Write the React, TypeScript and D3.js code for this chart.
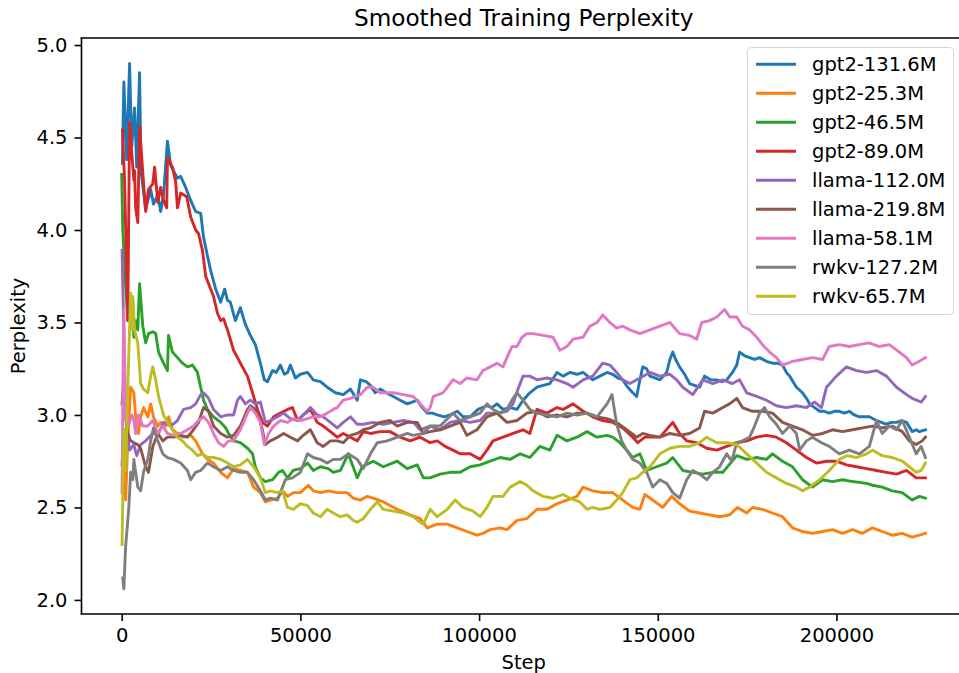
import { useEffect, useRef } from 'react';
import * as d3 from 'd3';

// [step in thousands, perplexity]
type Pt = [number, number];

const GPT2_131: Pt[] = [
  [0.2, 4.36], [0.6, 4.8], [1.4, 4.38], [2.2, 4.9], [2.8, 4.45], [3.6, 4.66], [4.2, 4.34], [5.0, 4.85],
  [5.4, 4.32], [6.7, 4.11], [8.1, 4.22], [8.9, 4.14], [10.1, 4.19], [10.9, 4.1], [11.7, 4.19], [12.8, 4.48],
  [13.7, 4.35], [14.5, 4.32], [15.6, 4.28], [16.5, 4.29], [17.9, 4.23], [19.3, 4.16], [20.7, 4.1], [22.1, 4.09],
  [22.9, 3.96], [24.0, 3.86], [24.9, 3.78], [26.3, 3.68], [27.7, 3.61], [28.8, 3.68], [29.6, 3.62], [30.4, 3.61],
  [31.8, 3.51], [33.2, 3.58], [34.6, 3.49], [36.0, 3.43], [37.4, 3.38], [38.8, 3.28], [39.9, 3.19], [40.8, 3.18],
  [42.2, 3.24], [43.3, 3.23], [44.4, 3.27], [45.5, 3.22], [46.4, 3.23], [47.2, 3.27], [48.6, 3.2], [50.0, 3.22],
  [52.0, 3.23], [53.6, 3.19], [55.6, 3.18], [57.5, 3.15], [59.8, 3.12], [62.0, 3.11], [64.0, 3.14], [65.9, 3.08],
  [66.8, 3.19], [68.4, 3.18], [69.6, 3.16], [70.9, 3.12], [72.3, 3.14], [74.0, 3.12], [76.0, 3.1], [77.9, 3.08],
  [79.9, 3.06], [81.3, 3.07], [82.7, 3.08], [84.1, 3.04], [85.5, 3.01], [86.9, 3.01], [88.3, 3.0], [90.2, 2.99],
  [91.9, 3.0], [93.9, 3.02], [95.5, 2.99], [97.5, 2.99], [99.7, 3.03], [102.2, 3.05], [103.6, 3.04], [105.0, 3.06],
  [106.7, 3.03], [108.7, 3.04], [110.6, 3.03], [112.3, 3.08], [114.2, 3.12], [116.2, 3.15], [117.9, 3.16], [119.8, 3.17],
  [121.8, 3.23], [123.5, 3.21], [125.4, 3.23], [127.4, 3.22], [129.1, 3.23], [130.4, 3.21], [131.8, 3.19], [133.8, 3.21],
  [135.8, 3.23], [137.4, 3.22], [138.8, 3.2], [140.2, 3.19], [141.6, 3.15], [143.0, 3.12], [144.1, 3.1], [145.0, 3.19],
  [145.8, 3.26], [146.9, 3.25], [147.8, 3.21], [149.2, 3.2], [150.6, 3.19], [152.5, 3.23], [153.4, 3.3], [154.2, 3.34],
  [155.0, 3.3], [156.1, 3.26], [157.5, 3.22], [158.9, 3.17], [160.3, 3.16], [161.7, 3.15], [163.1, 3.21], [164.8, 3.19],
  [166.5, 3.19], [167.9, 3.18], [169.3, 3.19], [170.9, 3.23], [172.1, 3.27], [172.9, 3.34], [174.3, 3.32], [175.7, 3.31],
  [177.1, 3.3], [178.5, 3.31], [180.4, 3.29], [182.1, 3.28], [183.5, 3.28], [184.9, 3.27], [186.0, 3.23], [186.9, 3.21],
  [188.8, 3.15], [190.5, 3.12], [191.6, 3.09], [192.5, 3.06], [193.9, 3.04], [195.3, 3.02], [196.6, 3.02], [198.0, 3.01],
  [199.4, 3.02], [200.8, 3.02], [202.2, 3.01], [203.6, 3.02], [205.0, 3.0], [206.4, 2.99], [207.8, 2.99], [209.2, 2.99],
  [211.2, 2.97], [212.6, 2.96], [213.9, 2.95], [215.4, 2.96], [216.8, 2.96], [218.2, 2.97], [219.6, 2.96], [221.2, 2.91],
  [222.3, 2.92], [223.2, 2.91], [224.9, 2.92],
];

const GPT2_25: Pt[] = [
  [0.1, 2.73], [0.6, 2.92], [1.1, 2.54], [1.7, 2.86], [2.5, 3.15], [3.4, 3.12], [3.9, 2.99], [4.7, 2.9],
  [5.3, 2.99], [6.1, 3.04], [7.3, 2.99], [8.1, 3.06], [8.9, 2.99], [10.1, 2.94], [10.9, 2.96], [12.3, 2.94],
  [13.1, 2.99], [14.2, 2.92], [15.6, 2.9], [17.3, 2.88], [19.3, 2.89], [20.7, 2.86], [21.5, 2.83], [22.6, 2.79],
  [24.0, 2.76], [25.7, 2.74], [27.7, 2.69], [29.6, 2.66], [31.3, 2.71], [33.2, 2.7], [35.2, 2.69], [36.9, 2.61],
  [38.8, 2.58], [40.2, 2.53], [41.6, 2.54], [43.6, 2.55], [45.0, 2.59], [46.4, 2.56], [48.0, 2.58], [50.0, 2.58],
  [52.2, 2.62], [53.6, 2.59], [55.6, 2.58], [57.8, 2.59], [60.3, 2.58], [63.1, 2.58], [64.8, 2.55], [66.8, 2.54],
  [68.7, 2.56], [70.4, 2.55], [73.2, 2.53], [77.1, 2.49], [80.7, 2.46], [83.5, 2.44], [85.5, 2.39], [88.3, 2.41],
  [91.1, 2.41], [93.9, 2.39], [96.6, 2.37], [99.4, 2.35], [101.1, 2.36], [103.1, 2.38], [105.9, 2.39], [107.8, 2.38],
  [110.6, 2.43], [113.4, 2.44], [116.2, 2.49], [119.0, 2.49], [121.8, 2.52], [124.6, 2.54], [127.4, 2.56], [129.1, 2.61],
  [131.8, 2.59], [134.6, 2.58], [137.4, 2.58], [140.2, 2.54], [143.0, 2.5], [145.0, 2.49], [146.4, 2.57], [148.6, 2.54],
  [151.4, 2.5], [153.9, 2.56], [156.1, 2.52], [158.9, 2.48], [161.7, 2.47], [164.5, 2.46], [167.3, 2.45], [170.1, 2.46],
  [172.3, 2.5], [174.9, 2.47], [176.5, 2.5], [179.3, 2.49], [182.1, 2.47], [184.9, 2.45], [187.7, 2.39], [190.5, 2.37],
  [193.3, 2.36], [196.1, 2.37], [198.9, 2.38], [201.7, 2.36], [204.5, 2.38], [207.3, 2.36], [210.1, 2.39], [212.8, 2.37],
  [215.6, 2.35], [218.4, 2.36], [221.2, 2.34], [223.2, 2.35], [224.9, 2.36],
];

const GPT2_46: Pt[] = [
  [0.0, 4.3], [0.3, 4.0], [0.6, 3.89], [1.1, 3.7], [1.7, 3.51], [2.5, 3.57], [3.1, 3.62], [3.4, 3.42],
  [3.9, 3.51], [4.5, 3.46], [5.0, 3.71], [5.9, 3.48], [6.7, 3.39], [7.5, 3.44], [8.7, 3.45], [9.5, 3.44],
  [10.3, 3.34], [11.7, 3.28], [12.8, 3.24], [13.1, 3.43], [14.2, 3.34], [15.6, 3.31], [17.0, 3.28], [18.4, 3.26],
  [19.8, 3.27], [21.2, 3.23], [22.1, 3.15], [22.9, 3.08], [24.0, 3.03], [25.7, 2.99], [27.7, 2.96], [29.1, 2.93],
  [29.9, 2.9], [31.3, 2.86], [33.2, 2.85], [35.2, 2.82], [36.6, 2.79], [37.4, 2.72], [38.8, 2.66], [40.2, 2.64],
  [42.2, 2.65], [43.9, 2.69], [45.0, 2.7], [46.4, 2.66], [48.0, 2.7], [50.0, 2.71], [52.0, 2.74], [53.6, 2.7],
  [55.6, 2.72], [57.8, 2.71], [59.2, 2.69], [61.2, 2.7], [63.4, 2.79], [65.9, 2.66], [67.3, 2.72], [70.4, 2.75],
  [73.2, 2.72], [77.1, 2.75], [79.9, 2.71], [82.7, 2.73], [84.4, 2.66], [86.3, 2.66], [89.1, 2.68], [91.9, 2.69],
  [94.7, 2.69], [97.5, 2.72], [100.3, 2.73], [103.1, 2.75], [105.9, 2.77], [108.7, 2.76], [111.5, 2.79], [114.2, 2.77],
  [117.0, 2.83], [119.8, 2.81], [121.8, 2.89], [124.6, 2.86], [127.4, 2.88], [130.2, 2.91], [133.0, 2.88], [135.8, 2.89],
  [137.4, 2.88], [139.4, 2.85], [141.3, 2.81], [143.0, 2.77], [145.0, 2.79], [146.9, 2.7], [149.7, 2.72], [152.5, 2.74],
  [154.2, 2.77], [157.0, 2.7], [159.8, 2.69], [162.6, 2.68], [165.4, 2.69], [168.2, 2.69], [172.1, 2.78], [174.9, 2.76],
  [177.7, 2.77], [180.4, 2.76], [182.1, 2.79], [184.9, 2.75], [187.7, 2.72], [190.5, 2.65], [193.3, 2.61], [196.1, 2.65],
  [198.9, 2.64], [201.7, 2.65], [204.5, 2.64], [208.4, 2.63], [210.1, 2.62], [212.8, 2.61], [215.6, 2.59], [218.4, 2.58],
  [221.2, 2.54], [223.2, 2.56], [224.9, 2.55],
];

const GPT2_89: Pt[] = [
  [0.2, 4.54], [0.8, 4.27], [1.7, 3.51], [2.2, 4.58], [2.8, 4.42], [3.4, 4.27], [3.6, 4.32], [3.9, 4.12],
  [4.5, 4.04], [5.0, 4.56], [5.9, 4.31], [6.7, 4.1], [7.5, 4.22], [8.7, 4.25], [9.2, 4.34], [10.1, 4.15],
  [10.9, 4.23], [11.7, 4.16], [12.6, 4.12], [12.8, 4.39], [14.2, 4.34], [15.1, 4.26], [15.6, 4.12], [16.5, 4.2],
  [18.2, 4.18], [19.3, 4.07], [20.7, 4.0], [21.5, 3.98], [22.6, 3.89], [23.5, 3.75], [24.3, 3.71], [25.7, 3.64],
  [26.8, 3.55], [27.7, 3.51], [28.5, 3.52], [29.6, 3.46], [31.3, 3.35], [33.2, 3.28], [35.2, 3.21], [36.6, 3.12],
  [38.0, 3.03], [39.4, 2.96], [40.8, 2.94], [42.5, 2.99], [44.4, 3.01], [46.4, 3.03], [47.8, 3.04], [49.2, 2.97],
  [50.8, 3.0], [52.8, 3.03], [54.7, 2.96], [56.4, 2.94], [58.4, 2.91], [60.3, 2.88], [62.0, 2.9], [64.0, 2.88],
  [65.9, 2.86], [67.6, 2.91], [69.6, 2.9], [72.3, 2.91], [75.1, 2.91], [77.9, 2.88], [80.7, 2.86], [83.5, 2.88],
  [86.3, 2.85], [88.3, 2.86], [90.5, 2.83], [92.7, 2.81], [94.7, 2.79], [97.5, 2.79], [100.3, 2.76], [102.2, 2.81],
  [103.9, 2.86], [106.7, 2.88], [109.5, 2.9], [112.3, 2.92], [114.2, 2.9], [116.2, 3.03], [119.0, 3.01], [121.8, 3.04],
  [123.5, 3.03], [126.3, 3.06], [129.1, 3.02], [131.8, 2.99], [134.6, 2.97], [137.4, 2.96], [140.2, 2.93], [143.0, 2.88],
  [144.4, 2.85], [146.4, 2.88], [147.8, 2.88], [150.6, 2.88], [154.2, 2.96], [156.1, 2.9], [158.1, 2.86], [160.9, 2.85],
  [163.7, 2.82], [166.5, 2.81], [169.3, 2.83], [172.1, 2.85], [174.9, 2.86], [177.7, 2.88], [180.4, 2.89], [183.2, 2.88],
  [186.0, 2.85], [188.8, 2.81], [191.6, 2.77], [194.4, 2.74], [197.2, 2.75], [200.0, 2.75], [202.8, 2.73], [205.6, 2.72],
  [208.4, 2.71], [211.2, 2.7], [214.0, 2.69], [216.8, 2.68], [219.6, 2.7], [222.3, 2.66], [224.9, 2.66],
];

const LLAMA_112: Pt[] = [
  [0.1, 3.89], [0.4, 3.62], [0.8, 3.19], [1.4, 2.92], [2.2, 2.81], [3.4, 2.84], [4.2, 2.78], [5.3, 2.84],
  [6.7, 2.86], [8.7, 2.9], [10.3, 2.9], [11.7, 2.96], [13.7, 2.94], [15.6, 2.97], [17.3, 3.03], [19.3, 3.04],
  [20.7, 3.06], [22.1, 3.11], [22.9, 3.12], [24.3, 3.09], [25.7, 3.03], [27.7, 2.99], [29.6, 3.0], [31.3, 3.0],
  [32.4, 3.08], [33.2, 3.1], [34.6, 3.06], [36.0, 3.08], [37.4, 3.06], [38.8, 3.07], [40.2, 2.96], [41.6, 2.97],
  [43.6, 2.99], [45.3, 3.01], [47.2, 2.98], [49.2, 2.97], [50.8, 3.0], [52.8, 3.04], [54.7, 3.0], [56.4, 2.99],
  [58.4, 2.96], [60.3, 2.93], [62.0, 2.96], [64.0, 2.99], [65.9, 2.95], [67.6, 2.95], [70.4, 2.96], [73.2, 2.95],
  [76.0, 2.96], [78.8, 2.97], [81.6, 2.96], [83.5, 2.92], [86.3, 2.94], [89.1, 2.92], [91.9, 2.96], [94.7, 2.97],
  [97.5, 2.96], [100.3, 2.97], [102.2, 3.01], [105.0, 3.01], [107.8, 3.02], [109.5, 3.06], [110.9, 3.14], [112.3, 3.21],
  [114.2, 3.21], [116.2, 3.19], [119.0, 3.2], [121.8, 3.19], [124.6, 3.17], [126.3, 3.15], [129.1, 3.19], [131.8, 3.21],
  [134.6, 3.28], [136.6, 3.27], [138.5, 3.23], [140.2, 3.19], [142.2, 3.17], [145.0, 3.2], [147.8, 3.23], [150.6, 3.21],
  [153.4, 3.22], [155.3, 3.19], [157.0, 3.15], [159.8, 3.11], [162.6, 3.19], [165.4, 3.17], [168.2, 3.19], [170.9, 3.17],
  [172.9, 3.19], [174.9, 3.12], [177.7, 3.1], [180.4, 3.08], [183.2, 3.05], [186.0, 3.04], [188.8, 3.05], [191.6, 3.04],
  [193.9, 3.07], [195.8, 3.04], [197.2, 3.15], [200.0, 3.21], [202.8, 3.26], [205.6, 3.24], [208.4, 3.23], [211.2, 3.24],
  [214.0, 3.21], [216.8, 3.15], [219.6, 3.11], [221.2, 3.09], [223.7, 3.07], [224.9, 3.1],
];

const LLAMA_219: Pt[] = [
  [0.1, 3.06], [0.6, 3.19], [1.4, 2.92], [2.5, 2.86], [3.4, 2.85], [4.5, 2.84], [5.3, 2.82], [6.7, 2.72],
  [7.5, 2.69], [8.7, 2.83], [10.1, 2.9], [11.5, 2.86], [12.8, 2.88], [14.5, 2.88], [16.5, 2.89], [18.4, 2.88],
  [20.1, 2.92], [21.5, 2.96], [22.9, 3.04], [24.3, 3.02], [25.7, 2.94], [27.7, 2.9], [29.6, 2.88], [31.3, 2.89],
  [33.2, 2.94], [35.2, 3.03], [36.0, 3.05], [37.4, 3.03], [38.8, 2.97], [40.2, 2.84], [41.6, 2.86], [43.6, 2.88],
  [45.3, 2.9], [47.2, 2.88], [49.2, 2.86], [50.8, 2.89], [52.8, 2.92], [54.7, 2.85], [56.4, 2.83], [58.4, 2.86],
  [60.3, 2.86], [62.0, 2.85], [64.0, 2.89], [65.9, 2.9], [67.6, 2.92], [69.6, 2.93], [72.3, 2.96], [75.1, 2.97],
  [77.1, 2.94], [79.9, 2.96], [82.7, 2.96], [84.4, 2.9], [86.3, 2.91], [89.1, 2.92], [91.9, 2.94], [94.7, 2.96],
  [96.6, 2.89], [99.4, 2.92], [102.2, 2.99], [105.0, 3.01], [107.8, 2.96], [110.6, 2.97], [113.4, 3.01], [116.2, 3.02],
  [119.0, 2.99], [121.8, 3.0], [124.6, 2.99], [127.4, 3.01], [130.2, 3.01], [133.0, 2.99], [135.8, 2.98], [138.5, 2.96],
  [141.3, 2.92], [144.1, 2.88], [145.8, 2.9], [147.8, 2.89], [150.6, 2.88], [153.4, 2.9], [156.1, 2.89], [158.9, 2.9],
  [161.7, 2.93], [163.1, 3.02], [165.4, 3.01], [168.2, 3.04], [170.1, 3.06], [172.1, 3.09], [173.7, 3.04], [176.5, 3.02],
  [179.3, 3.02], [182.1, 3.01], [184.9, 2.96], [187.7, 2.94], [190.5, 2.92], [193.3, 2.89], [196.1, 2.9], [198.9, 2.92],
  [201.7, 2.91], [204.5, 2.92], [207.3, 2.93], [210.1, 2.94], [212.8, 2.93], [215.6, 2.94], [218.4, 2.91], [220.4, 2.86],
  [222.3, 2.84], [224.0, 2.86], [224.9, 2.88],
];

const LLAMA_58: Pt[] = [
  [0.1, 2.58], [0.4, 3.3], [0.6, 3.57], [1.1, 2.97], [2.0, 2.95], [2.8, 3.0], [3.4, 2.97], [3.9, 2.9],
  [4.7, 3.0], [5.9, 2.94], [7.3, 2.94], [8.7, 2.97], [10.1, 2.9], [11.5, 2.94], [12.8, 2.9], [14.5, 2.89],
  [16.5, 2.9], [18.4, 2.92], [20.1, 2.94], [21.5, 2.97], [22.9, 2.99], [24.3, 2.96], [25.7, 2.9], [27.1, 2.85],
  [28.5, 2.83], [29.9, 2.86], [31.3, 2.86], [33.2, 2.92], [35.2, 3.01], [36.0, 3.04], [37.4, 3.01], [38.8, 2.96],
  [39.9, 2.84], [41.1, 2.9], [42.5, 2.94], [44.4, 2.97], [46.4, 2.96], [48.0, 2.98], [50.0, 2.97], [52.0, 2.98],
  [53.6, 2.99], [55.6, 2.99], [57.5, 3.01], [59.2, 3.03], [60.3, 3.04], [62.0, 3.08], [64.0, 3.09], [66.8, 3.11],
  [68.7, 3.15], [70.4, 3.15], [72.3, 3.12], [74.3, 3.12], [76.0, 3.12], [78.8, 3.11], [81.6, 3.1], [83.5, 3.06],
  [85.5, 3.02], [86.3, 3.04], [87.2, 3.1], [89.9, 3.12], [92.7, 3.19], [94.7, 3.17], [96.6, 3.2], [99.4, 3.19],
  [101.1, 3.24], [103.1, 3.26], [105.0, 3.28], [106.7, 3.26], [107.8, 3.31], [109.2, 3.37], [110.6, 3.37], [112.0, 3.42],
  [113.4, 3.44], [115.1, 3.44], [117.9, 3.43], [120.7, 3.42], [122.6, 3.35], [124.6, 3.37], [126.3, 3.41], [129.1, 3.42],
  [131.0, 3.48], [133.0, 3.5], [134.6, 3.54], [136.6, 3.5], [138.5, 3.47], [140.2, 3.48], [142.2, 3.46], [145.0, 3.44],
  [147.8, 3.46], [150.6, 3.48], [153.4, 3.5], [156.1, 3.44], [158.9, 3.43], [160.9, 3.41], [162.3, 3.5], [164.5, 3.51],
  [166.5, 3.53], [168.7, 3.57], [170.1, 3.53], [172.1, 3.53], [173.7, 3.48], [175.7, 3.46], [177.7, 3.42], [179.3, 3.38],
  [181.3, 3.34], [183.2, 3.31], [184.9, 3.27], [187.7, 3.29], [190.5, 3.3], [193.3, 3.31], [196.1, 3.3], [198.0, 3.37],
  [200.8, 3.38], [203.6, 3.37], [206.4, 3.38], [209.2, 3.39], [212.0, 3.37], [214.8, 3.38], [217.6, 3.34], [219.6, 3.31],
  [221.2, 3.27], [223.2, 3.29], [224.9, 3.31],
];

const RWKV_127: Pt[] = [
  [0.3, 2.12], [0.6, 2.06], [1.1, 2.29], [2.0, 2.5], [2.5, 2.69], [3.1, 2.65], [3.4, 2.76], [4.5, 2.61],
  [5.3, 2.59], [6.1, 2.69], [7.3, 2.76], [8.1, 2.86], [8.9, 2.93], [10.1, 2.86], [11.5, 2.79], [12.8, 2.77],
  [14.5, 2.76], [16.5, 2.74], [18.4, 2.7], [19.3, 2.65], [20.7, 2.69], [22.1, 2.7], [24.0, 2.74], [25.7, 2.72],
  [27.7, 2.7], [29.6, 2.72], [31.3, 2.7], [33.2, 2.69], [35.2, 2.69], [36.9, 2.65], [38.8, 2.59], [40.2, 2.54],
  [41.6, 2.55], [43.6, 2.54], [45.0, 2.61], [45.8, 2.65], [47.8, 2.66], [50.0, 2.69], [52.0, 2.79], [53.6, 2.77],
  [55.6, 2.76], [57.5, 2.74], [59.2, 2.76], [61.2, 2.76], [63.4, 2.79], [65.9, 2.76], [67.6, 2.71], [69.6, 2.79],
  [71.5, 2.85], [74.3, 2.86], [77.1, 2.88], [79.9, 2.9], [81.6, 2.89], [84.4, 2.9], [86.3, 2.94], [89.1, 2.94],
  [92.7, 3.01], [94.7, 2.97], [97.5, 2.99], [100.3, 3.01], [102.2, 3.06], [103.9, 3.03], [105.9, 3.01], [107.8, 3.03],
  [109.2, 3.08], [110.6, 3.12], [112.3, 3.08], [114.2, 3.03], [116.2, 3.01], [119.0, 3.0], [121.8, 2.99], [124.6, 3.01],
  [127.4, 3.0], [130.2, 3.01], [133.0, 2.99], [135.8, 3.06], [137.2, 3.11], [138.5, 2.95], [139.9, 2.86], [141.3, 2.81],
  [143.0, 2.76], [145.0, 2.74], [146.9, 2.69], [148.6, 2.61], [150.6, 2.65], [152.5, 2.63], [154.2, 2.58], [156.1, 2.55],
  [158.1, 2.65], [159.8, 2.7], [161.7, 2.68], [163.7, 2.65], [165.4, 2.69], [167.3, 2.72], [169.3, 2.79], [170.7, 2.75],
  [172.1, 2.85], [173.7, 2.86], [175.7, 2.88], [177.1, 2.94], [178.5, 3.01], [179.9, 3.04], [181.3, 2.99], [183.2, 2.95],
  [184.9, 2.9], [186.9, 2.94], [188.8, 2.9], [189.7, 2.81], [191.6, 2.86], [193.3, 2.88], [195.8, 2.85], [198.0, 2.83],
  [200.8, 2.79], [203.6, 2.81], [206.4, 2.79], [209.2, 2.83], [211.2, 2.97], [212.8, 2.9], [214.8, 2.94], [216.8, 2.92],
  [218.4, 2.97], [220.4, 2.88], [222.3, 2.79], [223.7, 2.83], [224.9, 2.77],
];

const RWKV_65: Pt[] = [
  [0.1, 2.3], [0.6, 2.92], [1.1, 2.7], [1.7, 3.14], [2.5, 3.66], [2.8, 3.46], [3.1, 3.64], [3.6, 3.46],
  [4.5, 3.39], [5.3, 3.17], [6.1, 3.14], [7.3, 3.12], [8.1, 3.21], [8.7, 3.26], [9.5, 3.19], [10.3, 3.1],
  [11.7, 3.0], [12.8, 2.96], [14.2, 2.92], [15.6, 2.88], [17.0, 2.86], [18.4, 2.83], [19.8, 2.81], [21.2, 2.78],
  [22.6, 2.79], [24.0, 2.77], [25.7, 2.77], [27.7, 2.76], [29.6, 2.74], [31.3, 2.72], [33.2, 2.73], [35.2, 2.76],
  [36.9, 2.72], [38.8, 2.66], [40.2, 2.58], [41.6, 2.59], [43.6, 2.58], [45.0, 2.59], [46.4, 2.5], [48.0, 2.49],
  [50.0, 2.52], [52.0, 2.51], [53.6, 2.47], [55.6, 2.45], [57.5, 2.49], [59.2, 2.47], [61.2, 2.45], [63.1, 2.46],
  [64.8, 2.43], [65.9, 2.42], [67.6, 2.44], [69.6, 2.49], [71.5, 2.53], [73.2, 2.49], [76.0, 2.48], [78.8, 2.47],
  [81.6, 2.45], [83.5, 2.42], [84.4, 2.41], [86.3, 2.49], [88.3, 2.45], [91.1, 2.49], [93.3, 2.54], [95.5, 2.5],
  [98.3, 2.48], [100.3, 2.45], [102.2, 2.5], [103.9, 2.56], [106.7, 2.56], [108.7, 2.61], [111.5, 2.64], [113.4, 2.62],
  [115.1, 2.59], [117.9, 2.56], [120.7, 2.55], [123.5, 2.57], [125.4, 2.55], [128.2, 2.53], [130.2, 2.49], [131.8, 2.5],
  [133.8, 2.49], [136.6, 2.5], [138.5, 2.54], [140.2, 2.58], [142.2, 2.65], [144.1, 2.66], [145.8, 2.69], [147.8, 2.72],
  [150.6, 2.79], [153.4, 2.82], [156.1, 2.83], [158.9, 2.83], [161.7, 2.85], [163.7, 2.88], [166.5, 2.85], [169.3, 2.85],
  [172.1, 2.84], [174.9, 2.79], [177.7, 2.74], [180.4, 2.69], [183.2, 2.66], [186.0, 2.63], [188.8, 2.61], [190.5, 2.59],
  [192.5, 2.61], [195.3, 2.65], [198.0, 2.7], [200.8, 2.76], [202.8, 2.78], [205.6, 2.77], [208.4, 2.79], [210.1, 2.81],
  [212.8, 2.78], [215.6, 2.77], [218.4, 2.75], [220.4, 2.72], [222.3, 2.69], [223.7, 2.7], [224.9, 2.74],
];

const SERIES = [
  { name: 'gpt2-131.6M', color: '#1f77b4', data: GPT2_131 },
  { name: 'gpt2-25.3M', color: '#ff7f0e', data: GPT2_25 },
  { name: 'gpt2-46.5M', color: '#2ca02c', data: GPT2_46 },
  { name: 'gpt2-89.0M', color: '#d62728', data: GPT2_89 },
  { name: 'llama-112.0M', color: '#9467bd', data: LLAMA_112 },
  { name: 'llama-219.8M', color: '#8c564b', data: LLAMA_219 },
  { name: 'llama-58.1M', color: '#e377c2', data: LLAMA_58 },
  { name: 'rwkv-127.2M', color: '#7f7f7f', data: RWKV_127 },
  { name: 'rwkv-65.7M', color: '#bcbd22', data: RWKV_65 },
];

const X_TICKS = [0, 50000, 100000, 150000, 200000];
const Y_TICKS = [2.0, 2.5, 3.0, 3.5, 4.0, 4.5, 5.0];

const W = 959;
const H = 673;
const LEFT = 81.5;
const RIGHT = 966;
const TOP = 38;
const BOTTOM = 614;
const FONT = '"DejaVu Sans", Verdana, sans-serif';
const FS = 19.5;

export default function App() {
  const svgRef = useRef<SVGSVGElement>(null);

  useEffect(() => {
    if (!svgRef.current) return;
    const svg = d3.select(svgRef.current);
    svg.selectAll('*').remove();

    const x = d3.scaleLinear().domain([-11250, 236250]).range([LEFT, RIGHT]);
    const y = d3.scaleLinear().domain([1.924, 5.038]).range([BOTTOM, TOP]);

    svg.append('rect').attr('width', W).attr('height', H).attr('fill', '#fff');

    // ── Lines ──────────────────────────────────────────────
    svg.append('clipPath').attr('id', 'plot-clip')
      .append('rect')
      .attr('x', LEFT).attr('y', TOP)
      .attr('width', RIGHT - LEFT).attr('height', BOTTOM - TOP);

    const line = d3.line<Pt>()
      .x(d => x(d[0] * 1000))
      .y(d => y(d[1]));

    const linesG = svg.append('g').attr('clip-path', 'url(#plot-clip)');
    SERIES.forEach(s => {
      linesG.append('path')
        .attr('d', line(s.data) ?? '')
        .attr('fill', 'none')
        .attr('stroke', s.color)
        .attr('stroke-width', 2.9)
        .attr('stroke-linejoin', 'round')
        .attr('stroke-linecap', 'square');
    });

    // ── Axes ───────────────────────────────────────────────
    const styleAxis = (g: d3.Selection<SVGGElement, unknown, null, undefined>) => {
      g.select('.domain').remove();
      g.selectAll('.tick line').attr('stroke', '#000').attr('stroke-width', 1.6);
      g.selectAll('text')
        .attr('fill', '#000')
        .attr('font-size', FS)
        .attr('font-family', FONT);
    };

    svg.append('g')
      .attr('transform', `translate(0, ${BOTTOM})`)
      .call(d3.axisBottom(x).tickValues(X_TICKS).tickSize(7).tickPadding(7).tickFormat(d3.format('d')))
      .call(styleAxis);

    svg.append('g')
      .attr('transform', `translate(${LEFT}, 0)`)
      .call(d3.axisLeft(y).tickValues(Y_TICKS).tickSize(7).tickPadding(7).tickFormat(d3.format('.1f')))
      .call(styleAxis);

    // spines
    const spine = (x1: number, y1: number, x2: number, y2: number) =>
      svg.append('line')
        .attr('x1', x1).attr('y1', y1).attr('x2', x2).attr('y2', y2)
        .attr('stroke', '#000').attr('stroke-width', 1.6).attr('stroke-linecap', 'square');
    spine(LEFT, TOP, LEFT, BOTTOM);
    spine(LEFT, BOTTOM, RIGHT, BOTTOM);
    spine(LEFT, TOP, RIGHT, TOP);
    spine(RIGHT, TOP, RIGHT, BOTTOM);

    // ── Labels ─────────────────────────────────────────────
    svg.append('text')
      .attr('x', (LEFT + RIGHT) / 2).attr('y', 26)
      .attr('text-anchor', 'middle')
      .attr('font-family', FONT).attr('font-size', 23.2)
      .text('Smoothed Training Perplexity');

    svg.append('text')
      .attr('x', (LEFT + RIGHT) / 2).attr('y', 669)
      .attr('text-anchor', 'middle')
      .attr('font-family', FONT).attr('font-size', FS)
      .text('Step');

    svg.append('text')
      .attr('transform', `translate(25, ${(TOP + BOTTOM) / 2}) rotate(-90)`)
      .attr('text-anchor', 'middle')
      .attr('font-family', FONT).attr('font-size', FS)
      .text('Perplexity');

    // ── Legend ─────────────────────────────────────────────
    const lg = svg.append('g');
    lg.append('rect')
      .attr('x', 747.5).attr('y', 47.5)
      .attr('width', 206).attr('height', 267)
      .attr('rx', 4)
      .attr('fill', '#fff').attr('fill-opacity', 0.8)
      .attr('stroke', '#d6d6d6').attr('stroke-width', 1);

    SERIES.forEach((s, i) => {
      const ly = 64.3 + i * 29;
      lg.append('line')
        .attr('x1', 756).attr('x2', 796)
        .attr('y1', ly).attr('y2', ly)
        .attr('stroke', s.color).attr('stroke-width', 2.9);
      lg.append('text')
        .attr('x', 812).attr('y', ly + 7)
        .attr('font-family', FONT).attr('font-size', FS)
        .attr('fill', '#000')
        .text(s.name);
    });
  }, []);

  return (
    <div style={{ position: 'absolute', left: 0, top: 0, width: W, height: H, overflow: 'hidden' }}>
      <svg ref={svgRef} width={W} height={H} style={{ display: 'block' }} />
    </div>
  );
}
